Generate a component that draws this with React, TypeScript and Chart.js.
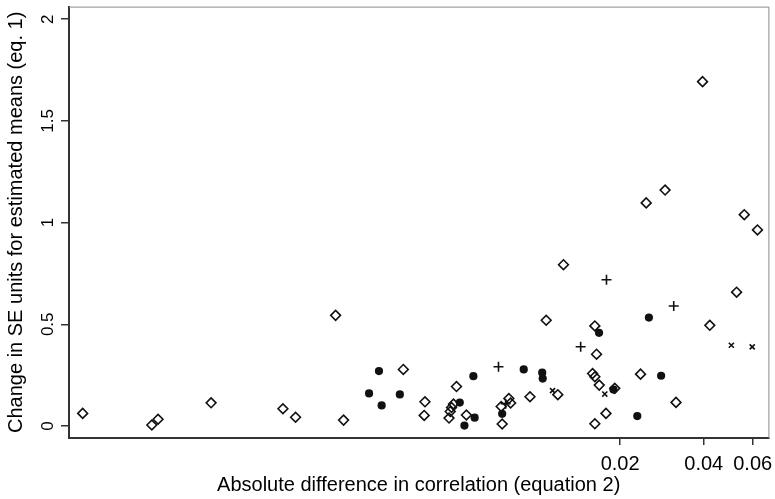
import React, { useEffect, useRef } from "react";
import { Chart, registerables } from "chart.js";

Chart.register(...registerables);

// Open diamonds
const diamondX = [0.000233, 0.000413, 0.000435, 0.000675, 0.001224, 0.001359, 0.001894, 0.002023, 0.003319, 0.003971, 0.003946, 0.005156, 0.00503, 0.004948, 0.004896, 0.004847, 0.005598, 0.007467, 0.007529, 0.007956, 0.008074, 0.00948, 0.010842, 0.011938, 0.012511, 0.015922, 0.016226, 0.016826, 0.016226, 0.016455, 0.016226, 0.017794, 0.019131, 0.023695, 0.031789, 0.024833, 0.029037, 0.039603, 0.042055, 0.052517, 0.055955, 0.062427];
const diamondY = [0.062, 0.005, 0.033, 0.114, 0.085, 0.043, 0.544, 0.029, 0.278, 0.119, 0.052, 0.194, 0.108, 0.091, 0.071, 0.039, 0.054, 0.096, 0.010, 0.135, 0.113, 0.144, 0.520, 0.154, 0.793, 0.258, 0.242, 0.201, 0.492, 0.353, 0.011, 0.062, 0.185, 0.255, 0.116, 1.097, 1.160, 1.693, 0.495, 0.658, 1.039, 0.964];

// Filled circles
const circleX = [0.002499, 0.002713, 0.002774, 0.003225, 0.005298, 0.005931, 0.005994, 0.005507, 0.007529, 0.009001, 0.01049, 0.010533, 0.016798, 0.018928, 0.02306, 0.025391, 0.028097];
const circleY = [0.160, 0.270, 0.101, 0.155, 0.115, 0.245, 0.041, 0.002, 0.060, 0.278, 0.262, 0.233, 0.458, 0.179, 0.049, 0.533, 0.247];

// Plus signs
const plusX = [0.007303, 0.007749, 0.014426, 0.017867, 0.031192];
const plusY = [0.291, 0.110, 0.390, 0.719, 0.590];

// Small crosses
const crossX = [0.011428, 0.017619, 0.050276, 0.059761];
const crossY = [0.174, 0.157, 0.397, 0.389];

const xTicks = [0.02, 0.04, 0.06];
const xTickLabels = ["0.02", "0.04", "0.06"];
const yTicks = [0, 0.5, 1, 1.5, 2];
const yTickLabels = ["0", "0.5", "1", "1.5", "2"];

const xTitle = "Absolute difference in correlation (equation 2)";
const yTitle = "Change in SE units for estimated means (eq. 1)";

const pts = (xs: number[], ys: number[]) => xs.map((x, i) => ({ x, y: ys[i] }));

const FONT = "'Liberation Sans', Arial, Helvetica, sans-serif";

const framePlugin = {
  id: "frame",
  afterDraw(chart: any) {
    const { ctx, chartArea } = chart;
    ctx.save();
    ctx.strokeStyle = "#8a8a8a";
    ctx.lineWidth = 1;
    ctx.beginPath();
    ctx.moveTo(chartArea.left, chartArea.top + 0.5);
    ctx.lineTo(chartArea.right + 0.5, chartArea.top + 0.5);
    ctx.lineTo(chartArea.right + 0.5, chartArea.bottom);
    ctx.stroke();
    ctx.restore();
  },
};

export default function App() {
  const ref = useRef<HTMLCanvasElement | null>(null);

  useEffect(() => {
    if (!ref.current) return;
    const common = { borderColor: "#111", showLine: false };
    const chart = new Chart(ref.current, {
      type: "scatter",
      data: {
        datasets: [
          { ...common, data: pts(diamondX, diamondY), pointStyle: "rectRot", pointRadius: 4.9, pointBorderWidth: 1.6, backgroundColor: "rgba(0,0,0,0)", pointBackgroundColor: "rgba(0,0,0,0)", pointBorderColor: "#111" },
          { ...common, data: pts(circleX, circleY), pointStyle: "circle", pointRadius: 4.1, pointBorderWidth: 0, backgroundColor: "#111", pointBackgroundColor: "#111", pointBorderColor: "#111" },
          { ...common, data: pts(plusX, plusY), pointStyle: "cross", pointRadius: 5, pointBorderWidth: 1.6, pointBorderColor: "#111" },
          { ...common, data: pts(crossX, crossY), pointStyle: "crossRot", pointRadius: 3.6, pointBorderWidth: 1.6, pointBorderColor: "#111" },
        ],
      },
      options: {
        animation: false,
        responsive: false,
        layout: { padding: { top: 5, right: 2, left: 0, bottom: 0 } },
        plugins: { legend: { display: false }, tooltip: { enabled: false } },
        elements: { point: { hoverRadius: 4 } },
        scales: {
          x: {
            type: "logarithmic",
            min: 0.000208,
            max: 0.06834,
            afterBuildTicks: (s: any) => {
              s.ticks = xTicks.map((v) => ({ value: v }));
            },
            afterFit: (s: any) => {
              s.height = 61;
              s.paddingLeft = 0;
              s.paddingRight = 0;
            },
            ticks: {
              autoSkip: false,
              maxRotation: 0,
              minRotation: 0,
              padding: 7,
              color: "#000",
              font: { family: FONT, size: 20 },
              callback: (v: any) => {
                const i = xTicks.findIndex((t) => Math.abs(t - Number(v)) < 1e-9);
                return i >= 0 ? xTickLabels[i] : "";
              },
            },
            grid: { display: true, drawOnChartArea: false, drawTicks: true, tickLength: 7, color: "#333", lineWidth: 1.5 },
            border: { display: true, color: "#333", width: 2 },
            title: { display: true, text: xTitle, color: "#000", font: { family: FONT, size: 20 }, padding: { top: 0, bottom: 1.5 } },
          },
          y: {
            type: "linear",
            min: -0.059,
            max: 2.062,
            afterBuildTicks: (s: any) => {
              s.ticks = yTicks.map((v) => ({ value: v }));
            },
            afterFit: (s: any) => {
              s.width = 69;
              s.paddingTop = 0;
              s.paddingBottom = 0;
            },
            ticks: {
              autoSkip: false,
              minRotation: 90,
              maxRotation: 90,
              crossAlign: "center",
              padding: 1,
              color: "#000",
              font: { family: FONT, size: 17 },
              callback: (v: any) => {
                const i = yTicks.findIndex((t) => Math.abs(t - Number(v)) < 1e-9);
                return i >= 0 ? yTickLabels[i] : "";
              },
            },
            grid: { display: true, drawOnChartArea: false, drawTicks: true, tickLength: 8, color: "#333", lineWidth: 1.5 },
            border: { display: true, color: "#333", width: 2 },
            title: { display: true, text: yTitle, color: "#000", font: { family: FONT, size: 20 }, padding: { top: 4, bottom: 0 } },
          },
        },
      } as any,
      plugins: [framePlugin],
    });
    return () => chart.destroy();
  }, []);

  return (
    <div style={{ position: "fixed", left: 0, top: 0, width: 775, height: 499, background: "#fff" }}>
      <canvas ref={ref} width={775} height={499} style={{ display: "block", width: 775, height: 499 }} />
    </div>
  );
}
